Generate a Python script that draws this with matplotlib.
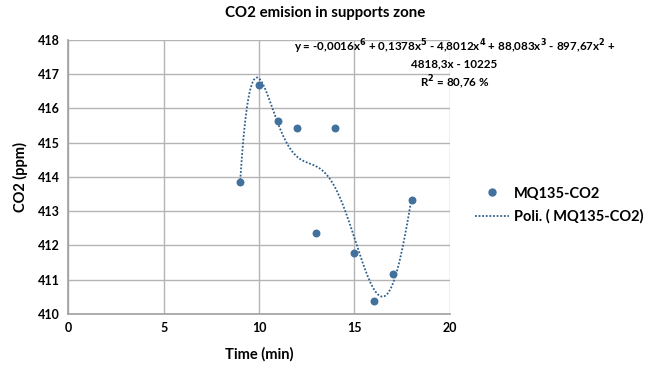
import numpy as np
import matplotlib
matplotlib.use("Agg")
import matplotlib.pyplot as plt
from matplotlib.lines import Line2D

plt.rcParams['font.family'] = ['Lato', 'DejaVu Sans']
plt.rcParams['font.weight'] = 'bold'
plt.rcParams['mathtext.default'] = 'bf'

time_min = [9, 10, 11, 12, 13, 14, 15, 16, 17, 18]
co2_ppm = [413.85, 416.68, 415.62, 415.44, 412.36, 415.42, 411.77, 410.38, 411.16, 413.33]

equation = ("y = -0,0016x$^6$ + 0,1378x$^5$ - 4,8012x$^4$ + 88,083x$^3$ - 897,67x$^2$ +\n"
            "4818,3x - 10225\nR$^2$ = 80,76 %")

dot_color = "#41719C"
line_color = "#2F5F8C"

fig = plt.figure(figsize=(6.51, 3.69), dpi=100)
ax = fig.add_axes([0.105, 0.149, 0.586, 0.743])

ax.scatter(time_min, co2_ppm, s=22, color=dot_color, zorder=3, label="MQ135-CO2")

# 6th order polynomial trendline, as Excel does
coef = np.polyfit(time_min, co2_ppm, 6)
xs = np.linspace(min(time_min), max(time_min), 300)
ax.plot(xs, np.polyval(coef, xs), color=line_color, lw=1.3, ls=(0, (1, 1)), zorder=2)

ax.set_xlim(0, 20)
ax.set_ylim(410, 418)
ax.set_xticks([0, 5, 10, 15, 20])
ax.set_yticks(range(410, 419))
ax.grid(True, color="#b4b4b4", lw=1)
ax.set_axisbelow(True)
for s in ["top", "right"]:
    ax.spines[s].set_visible(False)
for s in ["left", "bottom"]:
    ax.spines[s].set_color("#a0a0a0")
    ax.spines[s].set_linewidth(1.2)
ax.tick_params(length=0, labelsize=9, pad=6)
for lbl in ax.get_xticklabels() + ax.get_yticklabels():
    lbl.set_fontweight("bold")

ax.set_xlabel("Time (min)", fontsize=10.5, fontweight="bold", labelpad=9)
ax.set_ylabel("CO2 (ppm)", fontsize=10.5, fontweight="bold", labelpad=7)
fig.suptitle("CO2 emision in supports zone", x=0.5, y=0.985, fontsize=10.8, fontweight="bold")

fig.text(0.698, 0.898, equation, ha="center", va="top", fontsize=8.4, fontweight="bold",
         linespacing=1.25)

handles = [Line2D([], [], ls="", marker="o", ms=5, color=dot_color),
           Line2D([], [], color=line_color, lw=1.3, ls=(0, (1, 1)))]
fig.legend(handles, ["MQ135-CO2", "Poli. ( MQ135-CO2)"], loc="upper left",
           bbox_to_anchor=(0.71, 0.53), frameon=False,
           prop={"weight": "bold", "size": 10.5}, handlelength=2.3, handletextpad=0.35,
           labelspacing=0.6)

fig.savefig("out.png", dpi=100)
